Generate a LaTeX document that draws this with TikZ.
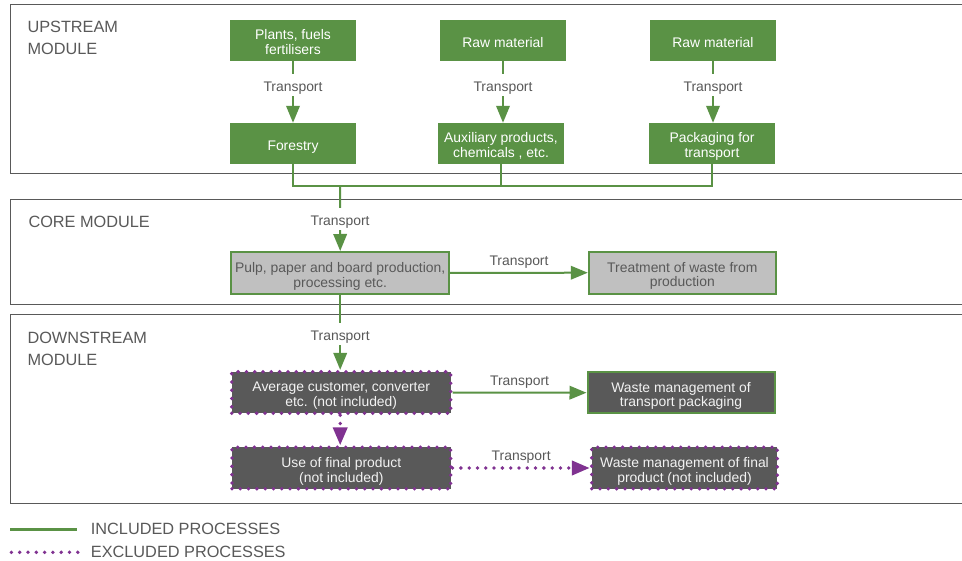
\documentclass[tikz,border=0pt]{standalone}
\usepackage{fontspec}
\setmainfont{Liberation Sans}
\usetikzlibrary{arrows.meta}
\definecolor{grn}{RGB}{90,146,69}
\definecolor{prp}{RGB}{128,50,145}
\definecolor{dgray}{RGB}{89,89,89}
\definecolor{lgray}{RGB}{192,192,192}
\definecolor{txt}{RGB}{89,89,89}
\definecolor{lighttxt}{RGB}{242,242,242}
\begin{document}
\begin{tikzpicture}[x=1pt,y=-1pt,
  every node/.style={font=\fontsize{13.9}{14.7}\selectfont, inner sep=0pt, align=center},
  tx/.style={text height=14.5pt, text depth=1pt},
  two/.style={text height=29.2pt},
  gbox/.style={tx, fill=grn, draw=none, text=white, minimum width=126pt, minimum height=41pt},
  corebox/.style={tx, fill=lgray, draw=grn, line width=2pt, text=txt, minimum height=42pt},
  dbox/.style={tx, fill=dgray, text=lighttxt, minimum height=41.5pt},
  inbox/.style={dbox, draw=grn, line width=2pt},
  exbox/.style={dbox, draw=prp, line width=3.8pt, line cap=round, dash pattern=on 0pt off 8.3pt},
  modline/.style={draw=dgray, line width=1pt},
  modlabel/.style={font=\fontsize{16.3}{22}\selectfont, text=txt, align=left},
  gline/.style={draw=grn, line width=2pt},
  garrow/.style={gline, -{Triangle[length=17pt,width=13.5pt]}},
  pline/.style={draw=prp, line width=3.8pt, line cap=round, dash pattern=on 0pt off 8.3pt},
  parrow/.style={pline, -{Triangle[length=18pt,width=14pt]}},
  tlabel/.style={tx, fill=white, text=txt, minimum height=22pt, inner xsep=2pt},
  hlabel/.style={tx, above=5pt, text=txt}]
\useasboundingbox (0,0) rectangle (962,561);
\fill[white] (0,0) rectangle (962,561);

% module frames
\draw[modline] (962,4.5) -- (10,4.5) -- (10,174) -- (962,174);
\draw[modline] (962,200) -- (10,200) -- (10,305) -- (962,305);
\draw[modline] (962,315) -- (10,315) -- (10,503) -- (962,503);
\node[modlabel, anchor=north west] (mup) at (27.3,20.5) {UPSTREAM\\MODULE};
\node[modlabel, anchor=north west] (mcore) at (28.3,216) {CORE MODULE};
\node[modlabel, anchor=north west] (mdown) at (27.3,332.2) {DOWNSTREAM\\MODULE};

% upstream
\node[gbox, two] (p1) at (293,40.5) {Plants, fuels\\fertilisers};
\node[gbox] (f1) at (293,143.5) {Forestry};
\node[gbox] (r2) at (503,40.5) {Raw material};
\node[gbox, two] (a2) at (501,143.5) {Auxiliary products,\\chemicals , etc.};
\node[gbox] (r3) at (713,40.5) {Raw material};
\node[gbox, two] (k3) at (712,143.5) {Packaging for\\transport};

\draw[garrow] (p1.south) -- node[tlabel, pos=0.39] {Transport} (f1.north);
\draw[garrow] (r2.south) -- node[tlabel, pos=0.39] {Transport} (r2.south |- a2.north);
\draw[garrow] (r3.south) -- node[tlabel, pos=0.39] {Transport} (r3.south |- k3.north);

% core
\node[corebox, two, minimum width=218pt] (pulp) at (340.2,273) {Pulp, paper and board production,\\processing etc.};
\node[corebox, two, minimum width=187pt] (treat) at (682.3,272.7) {Treatment of waste from\\production};

\coordinate (j) at (340,186);
\coordinate (jr) at (711.7,186);
\draw[gline] (f1.south) |- (jr) -- (jr |- k3.south);
\draw[gline] (a2.south) -- (a2.south |- j);
\draw[garrow] (j) -- node[tlabel, pos=0.505] {Transport} (pulp.north);
\draw[garrow] (pulp.east) -- node[hlabel] {Transport} (treat.west);

% downstream
\node[exbox, two, minimum width=219pt] (avg) at (341.2,392.5) {Average customer, converter\\etc. (not included)};
\node[inbox, two, minimum width=187pt] (wmt) at (681,392.7) {Waste management of\\transport packaging};
\node[exbox, two, minimum width=218.7pt] (use) at (341.3,468) {Use of final product\\(not included)};
\node[exbox, two, minimum width=185.6pt] (wmf) at (684.5,468) {Waste management of final\\product (not included)};

\draw[garrow] (pulp.south) -- node[tlabel, pos=0.517] {Transport} (pulp.south |- avg.north);
\draw[garrow] (avg.east) -- node[hlabel] {Transport} (wmt.west);
\draw[parrow] (avg.south -| pulp.south) -- (pulp.south |- use.north);
\draw[parrow] (use.east) -- node[hlabel] {Transport} (wmf.west);

% legend
\coordinate (lg1) at (10,529.3);
\coordinate (lg2) at (77.3,529.3);
\coordinate (lx1) at (11.4,552.3);
\coordinate (lx2) at (78.5,552.3);
\draw[gline, line width=2.6pt] (lg1) -- (lg2);
\draw[pline] (lx1) -- (lx2);
\node[modlabel, anchor=west] (linc) at (90.7,529) {INCLUDED PROCESSES};
\node[modlabel, anchor=west] (lexc) at (90.7,551.5) {EXCLUDED PROCESSES};
\end{tikzpicture}
\end{document}
